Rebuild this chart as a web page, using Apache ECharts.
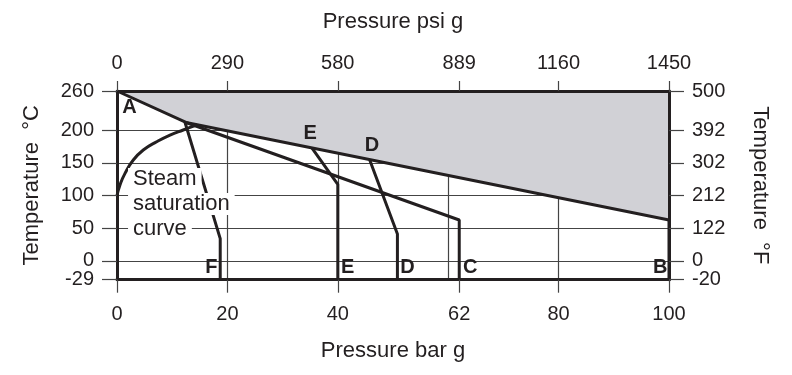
<!DOCTYPE html>
<html><head><meta charset="utf-8">
<script src="https://cdn.jsdelivr.net/npm/echarts@6/dist/echarts.min.js"></script>
<style>html,body{margin:0;padding:0;background:#fff}#c{width:792px;height:375px}</style>
</head><body><div id="c"></div>
<script>
const barTicks = [0, 20, 40, 62, 80, 100];
const psiTickLabels = ['0', '290', '580', '889', '1160', '1450'];
const celsiusTicks = [-29, 0, 50, 100, 150, 200, 260];
const fahrenheitTickLabels = ['-20', '0', '122', '212', '302', '392', '500'];
const gridBar = [20, 40, 60, 80];
const gridCelsius = [0, 50, 100, 150, 200];
const boundaryAB = [[0, 260], [12.5, 211.8], [100, 62.4]];
const lineB = [[100, 62.4], [100, -29]];
const lineC = [[12.5, 211.8], [62, 62.4], [62, -29]];
const lineD = [[45.8, 154], [50.8, 41], [50.8, -29]];
const lineE = [[35.3, 172.8], [40, 117], [40, -29]];
const lineF = [[12.3, 212.5], [18.7, 34], [18.7, -29]];
const saturationCurve = [[0, 100], [0.54, 116], [1.45, 133.9], [2.95, 154.3], [4.76, 169.6], [7.19, 182.3], [9.6, 192.6], [12.0, 200.3], [14.5, 208]];
const letterLabels = [[2.26, 234, 'A'], [35.0, 194.9, 'E'], [46.2, 176.8, 'D'],
  [17.1, -11, 'F'], [41.8, -11, 'E'], [52.6, -11, 'D'], [64.0, -11, 'C'], [98.4, -11, 'B']];
const curveNote = [[2.0, 87, 'Steam\nsaturation\ncurve']];

const INK = '#231f20';
const FONT = "'Liberation Sans', Arial, Helvetica, sans-serif";
const chart = echarts.init(document.getElementById('c'));

function mkLine(data, extra) {
  return Object.assign({
    type: 'line', data: data, symbol: 'none', z: 3,
    lineStyle: { color: INK, width: 3 }, silent: true
  }, extra || {});
}

const frame = { show: true, onZero: false, lineStyle: { color: INK, width: 3 } };
const tickStyle = { color: '#444', width: 1.2 };
const labelStyle = { fontSize: 20, color: INK, fontFamily: FONT, showMinLabel: true, showMaxLabel: true };
const nameStyle = { fontSize: 22, color: INK, fontFamily: FONT };
const upperC = celsiusTicks.slice(1);
const lowerC = celsiusTicks.slice(0, 1);
const fLabel = v => fahrenheitTickLabels[celsiusTicks.indexOf(v)];

function labelOnlyAxis(pos, values, formatter) {
  return { type: 'value', position: pos, min: -29, max: 260, z: 10,
    axisLine: { show: false, onZero: false }, axisTick: { show: false },
    splitLine: { show: false },
    axisLabel: Object.assign({ customValues: values, margin: 23, formatter: formatter }, labelStyle) };
}

chart.setOption({
  animation: false,
  grid: { left: 117, right: 123, top: 91, bottom: 95.3 },
  xAxis: [
    { type: 'value', position: 'bottom', min: 0, max: 100, z: 10,
      axisLine: frame,
      axisTick: { show: true, customValues: barTicks, length: 13, lineStyle: tickStyle },
      axisLabel: Object.assign({ customValues: barTicks, margin: 25 }, labelStyle),
      splitLine: { show: false },
      name: 'Pressure bar g', nameLocation: 'middle', nameGap: 60, nameTextStyle: nameStyle },
    { type: 'value', position: 'top', min: 0, max: 100, z: 10,
      axisLine: frame,
      axisTick: { show: true, customValues: barTicks, length: 10, lineStyle: tickStyle },
      axisLabel: Object.assign({ customValues: barTicks, margin: 18,
        formatter: v => psiTickLabels[barTicks.indexOf(v)] }, labelStyle),
      splitLine: { show: false },
      name: 'Pressure psi g', nameLocation: 'middle', nameGap: 58, nameTextStyle: nameStyle }
  ],
  yAxis: [
    { type: 'value', position: 'left', min: -29, max: 260, z: 10,
      axisLine: frame,
      axisTick: { show: true, customValues: celsiusTicks, length: 15, lineStyle: tickStyle },
      axisLabel: Object.assign({ customValues: upperC, margin: 23 }, labelStyle),
      splitLine: { show: false },
      name: 'Temperature  °C', nameLocation: 'middle', nameRotate: 90, nameGap: 74, nameTextStyle: nameStyle },
    { type: 'value', position: 'right', min: -29, max: 260, z: 10,
      axisLine: frame,
      axisTick: { show: true, customValues: celsiusTicks, length: 15, lineStyle: tickStyle },
      axisLabel: Object.assign({ customValues: upperC, margin: 23, formatter: fLabel }, labelStyle),
      splitLine: { show: false },
      name: 'Temperature  °F', nameLocation: 'middle', nameRotate: -90, nameGap: 80, nameTextStyle: nameStyle },
    labelOnlyAxis('left', lowerC, v => String(v)),
    labelOnlyAxis('right', lowerC, fLabel)
  ],
  series: [
    { type: 'line', data: [[0, -29]], symbol: 'none', z: 1, silent: true,
      lineStyle: { width: 0 },
      markLine: { silent: true, z: 1, symbol: ['none', 'none'], animation: false,
        label: { show: false }, lineStyle: { color: '#444', width: 1.2, type: 'solid' },
        emphasis: { disabled: true },
        data: gridBar.map(v => ({ xAxis: v })).concat(gridCelsius.map(v => ({ yAxis: v }))) } },
    mkLine(boundaryAB, { z: 2, areaStyle: { color: '#d1d1d6', opacity: 1, origin: 'end' } }),
    mkLine(lineB), mkLine(lineC), mkLine(lineD), mkLine(lineE), mkLine(lineF),
    mkLine(saturationCurve, { smooth: true }),
    { type: 'scatter', data: curveNote, symbolSize: 0, z: 5, silent: true,
      itemStyle: { opacity: 1 },
      label: { show: true, position: 'right', distance: 0, opacity: 1,
        formatter: p => p.data[2].split('\n').map(s => '{t|' + s + '}').join('\n'),
        rich: { t: { fontSize: 22, lineHeight: 25, color: INK, fontFamily: FONT,
          backgroundColor: '#fff', padding: [0, 5] } } } },
    { type: 'scatter', data: letterLabels, symbolSize: 0, z: 6, silent: true,
      itemStyle: { opacity: 1 },
      label: { show: true, position: 'inside', formatter: p => p.data[2], opacity: 1,
        fontSize: 20, fontWeight: 'bold', color: INK, fontFamily: FONT } }
  ]
});
</script></body></html>
